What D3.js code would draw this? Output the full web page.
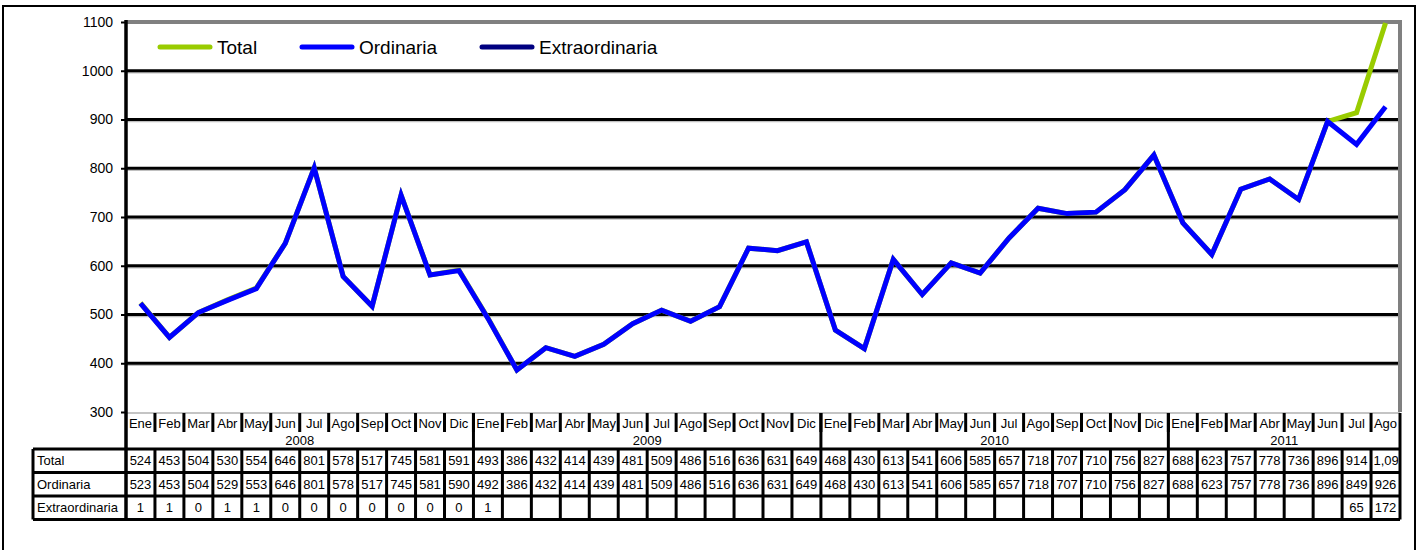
<!DOCTYPE html>
<html>
<head>
<meta charset="utf-8">
<script src="https://cdn.jsdelivr.net/npm/d3@7"></script>
<style>
  body { margin: 0; background: #fff; }
  text { font-family: "Liberation Sans", Arial, sans-serif; }
</style>
</head>
<body>
<div id="chart"></div>
<script>
// months and years along the x axis
const months = ["Ene","Feb","Mar","Abr","May","Jun","Jul","Ago","Sep","Oct","Nov","Dic"];
const years = ["2008","2009","2010","2011"];
const monthsPerYear = [12, 12, 12, 8];

// series values, 2008 Ene .. 2011 Ago
const total = [524,453,504,530,554,646,801,578,517,745,581,591,
               493,386,432,414,439,481,509,486,516,636,631,649,
               468,430,613,541,606,585,657,718,707,710,756,827,
               688,623,757,778,736,896,914,1098];
const ordinaria = [523,453,504,529,553,646,801,578,517,745,581,590,
                   492,386,432,414,439,481,509,486,516,636,631,649,
                   468,430,613,541,606,585,657,718,707,710,756,827,
                   688,623,757,778,736,896,849,926];
const extraordinaria = [1,1,0,1,1,0,0,0,0,0,0,0,
                        1,null,null,null,null,null,null,null,null,null,null,null,
                        null,null,null,null,null,null,null,null,null,null,null,null,
                        null,null,null,null,null,null,65,172];
const yTicks = [300,400,500,600,700,800,900,1000,1100];

const series = [
  {name: "Total", values: total, color: "#99cc00"},
  {name: "Ordinaria", values: ordinaria, color: "#0000ff"},
  {name: "Extraordinaria", values: extraordinaria, color: "#000080"}
];

// month labels for every point
const labels = [];
years.forEach((yr, i) => {
  for (let m = 0; m < monthsPerYear[i]; m++) labels.push(months[m]);
});

const width = 1421, height = 550;
const pLeft = 126, pRight = 1400, pTop = 22, pBottom = 412;

const svg = d3.select("#chart").append("svg")
  .attr("width", width)
  .attr("height", height);

const x = d3.scaleBand()
  .domain(d3.range(labels.length))
  .range([pLeft, pRight])
  .padding(0);
const bw = x.bandwidth();
const cx = i => x(i) + bw / 2;

const y = d3.scaleLinear()
  .domain([300, 1100])
  .range([pBottom, pTop]);

// outer frame
svg.append("rect")
  .attr("x", 3).attr("y", 6)
  .attr("width", 1412).attr("height", 560)
  .attr("fill", "none").attr("stroke", "#000").attr("stroke-width", 2);

// grid lines with a grey shadow
const grid = yTicks.filter(d => d > 300 && d < 1100);
svg.append("g").selectAll("line")
  .data(grid)
  .join("line")
    .attr("x1", pLeft).attr("x2", pRight - 2)
    .attr("y1", d => y(d) + 2).attr("y2", d => y(d) + 2)
    .attr("stroke", "#c0c0c0").attr("stroke-width", 1.5);
svg.append("g").selectAll("line")
  .data(grid)
  .join("line")
    .attr("x1", pLeft).attr("x2", pRight - 2)
    .attr("y1", d => y(d)).attr("y2", d => y(d))
    .attr("stroke", "#000").attr("stroke-width", 3);

// plot bottom
svg.append("line")
  .attr("x1", pLeft).attr("x2", pRight)
  .attr("y1", pBottom + 1).attr("y2", pBottom + 1)
  .attr("stroke", "#b0b0b0").attr("stroke-width", 1.5);

// grey plot border top and right
svg.append("path")
  .attr("d", `M${pLeft},${pTop} H${pRight} V${pBottom}`)
  .attr("fill", "none").attr("stroke", "#808080").attr("stroke-width", 4);

// y axis
const yAxis = d3.axisLeft(y).tickValues(yTicks).tickFormat(d3.format("d"))
  .tickSize(5).tickPadding(8);
const gy = svg.append("g")
  .attr("transform", `translate(${pLeft},0)`)
  .call(yAxis);
gy.select(".domain").remove();
gy.selectAll(".tick line").attr("stroke", "#000").attr("stroke-width", 2);
gy.selectAll(".tick text")
  .attr("font-size", 14)
  .attr("font-family", "Liberation Sans, Arial, sans-serif")
  .attr("fill", "#000");

// lines
svg.append("clipPath").attr("id", "plotclip")
  .append("rect").attr("x", pLeft).attr("y", pTop - 1)
  .attr("width", pRight - pLeft).attr("height", pBottom - pTop + 1);

const line = d3.line()
  .defined(d => d != null)
  .x((d, i) => cx(i))
  .y(d => y(d));

svg.append("g").attr("clip-path", "url(#plotclip)")
  .selectAll("path")
  .data([series[2], series[0], series[1]])
  .join("path")
    .attr("d", d => line(d.values))
    .attr("fill", "none")
    .attr("stroke", d => d.color)
    .attr("stroke-width", 5)
    .attr("stroke-linejoin", "miter");

// legend
const legendX = [160, 302, 482];
const lg = svg.append("g").selectAll("g")
  .data(series)
  .join("g")
    .attr("transform", (d, i) => `translate(${legendX[i]},47)`);
lg.append("line")
  .attr("x1", 0).attr("x2", 50)
  .attr("stroke", d => d.color).attr("stroke-width", 5)
  .attr("stroke-linecap", "round");
lg.append("text")
  .attr("x", 57).attr("dy", "0.35em")
  .attr("font-size", 19)
  .text(d => d.name);

// data table
const tTop = pBottom + 1, monthBottom = 432, yearBottom = 449;
const rowH = 23.5;
const tableLeft = 33;
const rows = series.map((s, i) => ({s, y0: yearBottom + i * rowH}));
const tableBottom = yearBottom + 3 * rowH;
const fs = 13;

const tg = svg.append("g");

// month labels
tg.selectAll("text.month")
  .data(labels)
  .join("text")
    .attr("class", "month")
    .attr("x", (d, i) => cx(i))
    .attr("y", (tTop + monthBottom) / 2 + 1)
    .attr("dy", "0.35em")
    .attr("text-anchor", "middle")
    .attr("font-size", fs)
    .text(d => d);

// month separators
tg.selectAll("line.msep")
  .data(d3.range(1, labels.length))
  .join("line")
    .attr("class", "msep")
    .attr("x1", i => x(i)).attr("x2", i => x(i))
    .attr("y1", tTop).attr("y2", monthBottom)
    .attr("stroke", "#000").attr("stroke-width", 3);

// year labels and separators
let start = 0;
const yearSpans = years.map((yr, i) => {
  const s = {yr, a: start, b: start + monthsPerYear[i]};
  start += monthsPerYear[i];
  return s;
});
tg.selectAll("text.year")
  .data(yearSpans)
  .join("text")
    .attr("class", "year")
    .attr("x", d => (x(d.a) + x(d.b - 1) + bw) / 2)
    .attr("y", (monthBottom + yearBottom) / 2)
    .attr("dy", "0.35em")
    .attr("text-anchor", "middle")
    .attr("font-size", fs)
    .text(d => d.yr);
tg.selectAll("line.ysep")
  .data(yearSpans.slice(1))
  .join("line")
    .attr("class", "ysep")
    .attr("x1", d => x(d.a)).attr("x2", d => x(d.a))
    .attr("y1", tTop).attr("y2", yearBottom)
    .attr("stroke", "#000").attr("stroke-width", 3);

// table row lines
tg.selectAll("line.hrow")
  .data(d3.range(4))
  .join("line")
    .attr("class", "hrow")
    .attr("x1", tableLeft).attr("x2", pRight)
    .attr("y1", i => yearBottom + i * rowH).attr("y2", i => yearBottom + i * rowH)
    .attr("stroke", "#000").attr("stroke-width", 3);

// table column lines
tg.selectAll("line.vcol")
  .data(d3.range(1, labels.length))
  .join("line")
    .attr("class", "vcol")
    .attr("x1", i => x(i)).attr("x2", i => x(i))
    .attr("y1", yearBottom).attr("y2", tableBottom)
    .attr("stroke", "#000").attr("stroke-width", 3);

// table outer left, right and axis through table
tg.append("line")
  .attr("x1", tableLeft).attr("x2", tableLeft)
  .attr("y1", yearBottom).attr("y2", tableBottom)
  .attr("stroke", "#000").attr("stroke-width", 3);
tg.append("line")
  .attr("x1", pRight).attr("x2", pRight)
  .attr("y1", tTop).attr("y2", tableBottom)
  .attr("stroke", "#000").attr("stroke-width", 3);
svg.append("line")
  .attr("x1", pLeft).attr("x2", pLeft)
  .attr("y1", pTop - 2).attr("y2", tableBottom)
  .attr("stroke", "#000").attr("stroke-width", 3.5);

// row names
tg.selectAll("text.rowname")
  .data(rows)
  .join("text")
    .attr("class", "rowname")
    .attr("x", tableLeft + 4)
    .attr("y", d => d.y0 + rowH / 2)
    .attr("dy", "0.35em")
    .attr("font-size", fs)
    .text(d => d.s.name);

// cell values, clipped to their cells
const fmt = d3.format(",");
const cellDefs = svg.append("defs");
labels.forEach((l, i) => {
  cellDefs.append("clipPath").attr("id", "cell" + i)
    .append("rect")
      .attr("x", x(i) + 1.5).attr("y", yearBottom)
      .attr("width", bw - 3).attr("height", 3 * rowH);
});
rows.forEach(r => {
  tg.append("g").selectAll("text")
    .data(r.s.values)
    .join("text")
      .attr("clip-path", (d, i) => `url(#cell${i})`)
      .attr("x", (d, i) => {
        const s = d == null ? "" : fmt(d);
        return s.length > 3 ? x(i) + 2.5 : cx(i);
      })
      .attr("y", r.y0 + rowH / 2)
      .attr("dy", "0.35em")
      .attr("text-anchor", d => d != null && fmt(d).length > 3 ? "start" : "middle")
      .attr("font-size", fs)
      .text(d => d == null ? "" : fmt(d));
});
</script>
</body>
</html>
